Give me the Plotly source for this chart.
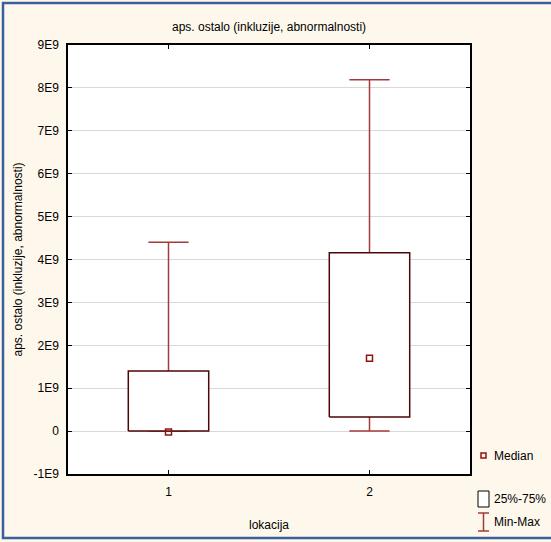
import plotly.graph_objects as go

# Box-plot statistics per location
locations = [1, 2]
minimum = [0.0, 0.0]
q1 = [0.0, 0.33e9]
median = [-0.02e9, 1.70e9]
q3 = [1.40e9, 4.16e9]
maximum = [4.40e9, 8.19e9]

y_tickvals = [-1e9, 0, 1e9, 2e9, 3e9, 4e9, 5e9, 6e9, 7e9, 8e9, 9e9]
y_ticktext = ["-1E9", "0", "1E9", "2E9", "3E9", "4E9", "5E9", "6E9", "7E9", "8E9", "9E9"]

BOX_HALF = 0.2      # half box width in x units
CAP_HALF = 0.1      # half whisker-cap width in x units
WHISKER = "#A33A3A"
BOX_LINE = "#4E0606"
MEDIAN = "#8E1414"
BG = "#FEF8EC"
FONT = "Liberation Sans Narrow, Arial Narrow, Liberation Sans, Arial, sans-serif"

fig = go.Figure()

# whiskers with caps
wx, wy = [], []
for x, lo, a, b, hi in zip(locations, minimum, q1, q3, maximum):
    wx += [x, x, None, x - CAP_HALF, x + CAP_HALF, None,
           x, x, None, x - CAP_HALF, x + CAP_HALF, None]
    wy += [b, hi, None, hi, hi, None,
           a, lo, None, lo, lo, None]
fig.add_trace(go.Scatter(x=wx, y=wy, mode="lines", hoverinfo="skip",
                         line=dict(color=WHISKER, width=1.5), showlegend=False))

# boxes (25%-75%)
for x, a, b in zip(locations, q1, q3):
    fig.add_trace(go.Scatter(
        x=[x - BOX_HALF, x + BOX_HALF, x + BOX_HALF, x - BOX_HALF, x - BOX_HALF],
        y=[a, a, b, b, a], mode="lines", fill="toself", fillcolor="white",
        line=dict(color=BOX_LINE, width=1.5), hoverinfo="skip", showlegend=False))

# medians
fig.add_trace(go.Scatter(x=locations, y=median, mode="markers", showlegend=False,
                         marker=dict(symbol="square-open", size=6,
                                     color=MEDIAN, line=dict(width=1.5, color=MEDIAN))))

# plot area geometry in pixels (for legend placement)
W, H = 551, 542
L, R, T, B = 68, 81, 45, 68
pw, ph = W - L - R, H - T - B


def px(xp):
    return (xp - L) / pw


def py(yp):
    return (H - B - yp) / ph


shapes = [
    # outer frame
    dict(type="rect", xref="paper", yref="paper",
         x0=px(3), x1=px(560), y0=py(538), y1=py(3),
         line=dict(color="#3A5F9C", width=2.5), fillcolor="rgba(0,0,0,0)", layer="below"),
    # legend: box symbol
    dict(type="rect", xref="paper", yref="paper",
         x0=px(478), x1=px(489), y0=py(507), y1=py(491),
         line=dict(color="black", width=1), fillcolor="white"),
    # legend: min-max symbol
    dict(type="line", xref="paper", yref="paper", x0=px(483.5), x1=px(483.5),
         y0=py(531), y1=py(513), line=dict(color=WHISKER, width=1.5)),
    dict(type="line", xref="paper", yref="paper", x0=px(478), x1=px(489),
         y0=py(513), y1=py(513), line=dict(color=WHISKER, width=1.5)),
    dict(type="line", xref="paper", yref="paper", x0=px(478), x1=px(489),
         y0=py(531), y1=py(531), line=dict(color=WHISKER, width=1.5)),
    # legend: median symbol
    dict(type="rect", xref="paper", yref="paper",
         x0=px(481), x1=px(486), y0=py(458), y1=py(453),
         line=dict(color=MEDIAN, width=1.5), fillcolor="rgba(0,0,0,0)"),
]

annotations = [
    dict(text="Median", x=px(492), y=py(456), xref="paper", yref="paper",
         xanchor="left", yanchor="middle", showarrow=False, font=dict(size=12, color="black")),
    dict(text="25%-75%", x=px(492), y=py(499), xref="paper", yref="paper",
         xanchor="left", yanchor="middle", showarrow=False, font=dict(size=12, color="black")),
    dict(text="Min-Max", x=px(492), y=py(522), xref="paper", yref="paper",
         xanchor="left", yanchor="middle", showarrow=False, font=dict(size=12, color="black")),
    dict(text="aps. ostalo (inkluzije, abnormalnosti)", x=0.5, y=py(27),
         xref="paper", yref="paper", xanchor="center", yanchor="middle",
         showarrow=False, font=dict(size=12, color="black")),
]

fig.update_layout(
    width=W, height=H,
    margin=dict(l=L, r=R, t=T, b=B, pad=0),
    paper_bgcolor=BG, plot_bgcolor="white",
    font=dict(family=FONT, size=12, color="black"),
    showlegend=False,
    shapes=shapes,
    annotations=annotations,
    xaxis=dict(range=[0.5, 2.5], tickvals=locations, ticktext=[str(v) for v in locations],
               showgrid=False, zeroline=False, showline=True, linecolor="black", linewidth=1.5,
               mirror="ticks", ticks="inside", ticklen=4, tickcolor="black",
               ticklabelstandoff=6,
               title=dict(text="lokacija", standoff=22, font=dict(size=12))),
    yaxis=dict(range=[-1e9, 9e9], tickvals=y_tickvals, ticktext=y_ticktext,
               showgrid=True, gridcolor="#D9D9D9", gridwidth=1, zeroline=False,
               showline=True, linecolor="black", linewidth=1.5,
               mirror="ticks", ticks="inside", ticklen=4, tickcolor="black",
               ticklabelstandoff=5,
               title=dict(text="aps. ostalo (inkluzije, abnormalnosti)", standoff=8,
                          font=dict(size=12))),
)

fig.write_html("out.html")
